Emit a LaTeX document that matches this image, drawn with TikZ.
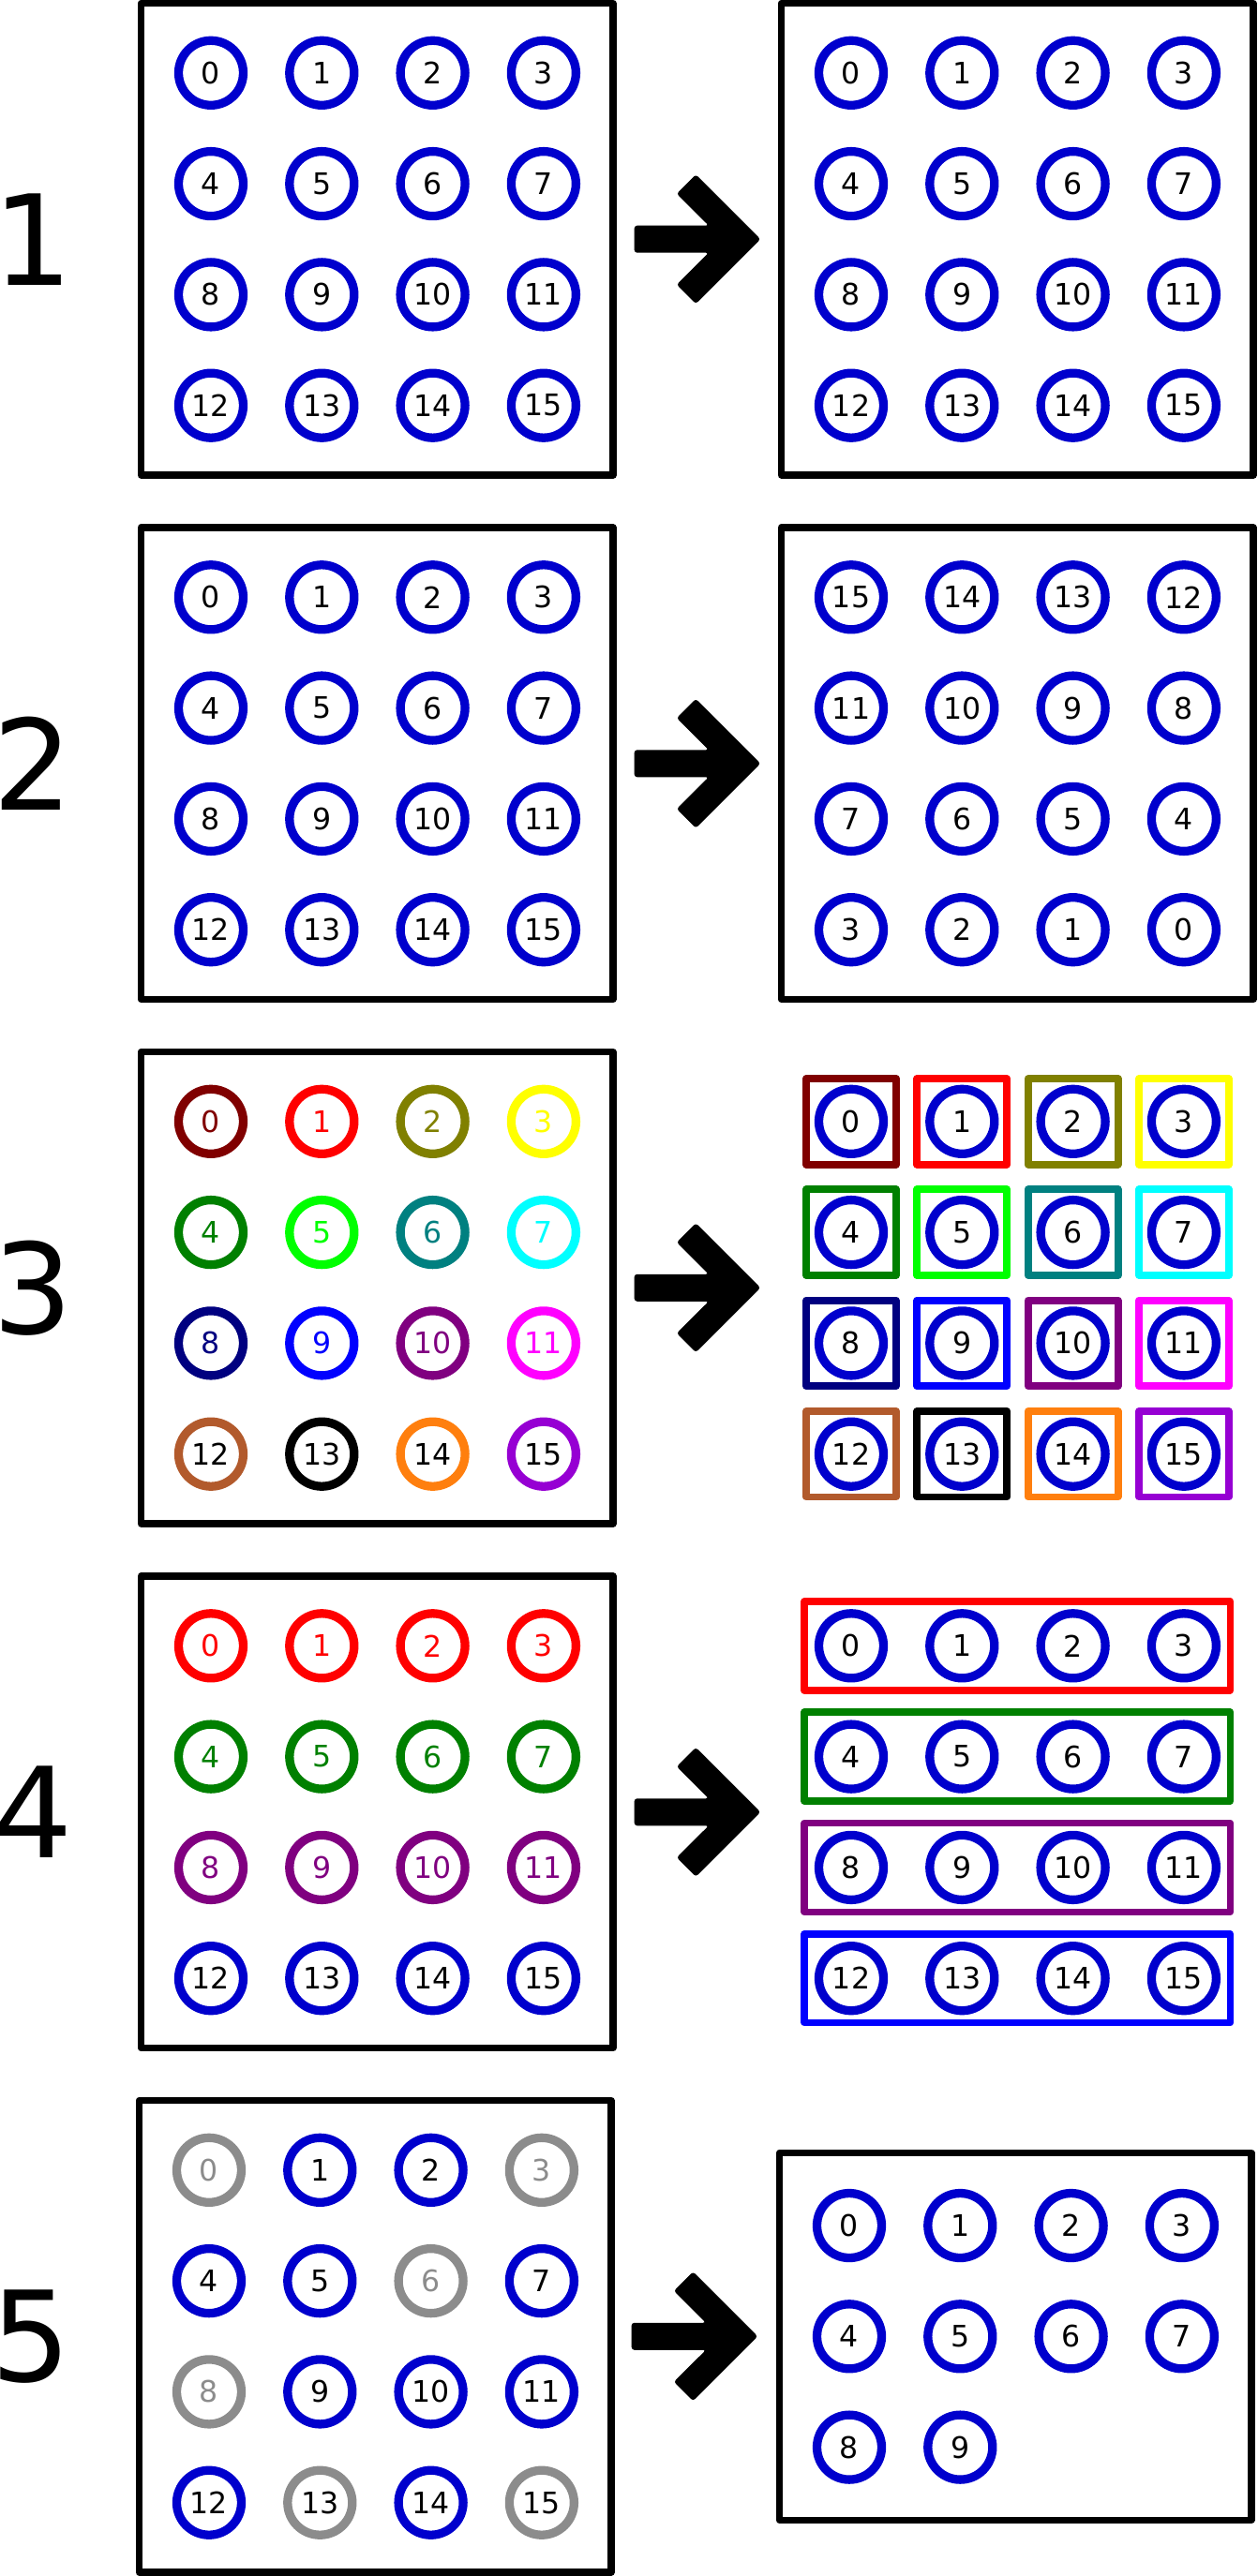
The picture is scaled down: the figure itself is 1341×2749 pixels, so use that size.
\documentclass[tikz,border=0pt]{standalone}
\usepackage{fontspec}
\setmainfont{DejaVu Sans}
\definecolor{cb}{RGB}{0,0,205}
\definecolor{cgray}{RGB}{140,140,140}
\definecolor{c0}{RGB}{128,0,0}
\definecolor{c1}{RGB}{255,0,0}
\definecolor{c2}{RGB}{128,128,0}
\definecolor{c3}{RGB}{255,255,0}
\definecolor{c4}{RGB}{0,128,0}
\definecolor{c5}{RGB}{0,255,0}
\definecolor{c6}{RGB}{0,128,128}
\definecolor{c7}{RGB}{0,255,255}
\definecolor{c8}{RGB}{0,0,128}
\definecolor{c9}{RGB}{0,0,255}
\definecolor{c10}{RGB}{128,0,128}
\definecolor{c11}{RGB}{255,0,255}
\definecolor{c12}{RGB}{178,90,44}
\definecolor{c13}{RGB}{0,0,0}
\definecolor{c14}{RGB}{255,127,14}
\definecolor{c15}{RGB}{150,0,211}
\tikzset{
  ball/.style 2 args={circle,draw=#1,text=#2,line width=4.65pt,minimum size=34.5pt,inner sep=0pt,
    font=\fontsize{15.8pt}{16pt}\selectfont},
  frame/.style={rectangle,draw=black,line width=3.65pt,line join=round,inner sep=0pt,
    minimum width=251.75pt,minimum height=251.75pt},
  sqbox/.style={rectangle,draw=#1,line width=3.9pt,line join=round,inner sep=0pt,
    minimum width=48pt,minimum height=45.8pt},
  rowbox/.style={rectangle,draw=#1,line width=3.8pt,line join=round,inner sep=0pt,
    minimum width=227.1pt,minimum height=47.4pt},
  lab/.style={inner sep=0pt,font=\fontsize{67pt}{70pt}\selectfont},
  bigarrow/.pic={\fill[black,rounded corners=1.5pt] (0,-14.5) -- (79.3,-14.5) -- (45.1,-48.5) -- (65.6,-69)
     -- (134.6,0) -- (65.6,69) -- (45.1,48.5) -- (79.3,14.5) -- (0,14.5) -- cycle;}
}
\begin{document}
\begin{tikzpicture}[x=0.5pt,y=-0.5pt]
\useasboundingbox (0,0) rectangle (1341,2749);

% ---------- Panel 1 ----------
\node[lab] (lab1) at (35,255.25) {1};
\node[frame] (b1l) at (402.25,255.25) {};
\node[frame] (b1r) at (1085.25,255.25) {};
\pic at (676.7,255.25) {bigarrow};
\foreach \n in {0,...,15}{
  \pgfmathsetmacro\px{118.3*mod(\n,4)}
  \pgfmathsetmacro\py{255.25+118.3*(int(\n/4)-1.5)}
  \node[ball={cb}{black}] (a1l-\n) at (225+\px,\py) {\n};
  \node[ball={cb}{black}] (a1r-\n) at (908+\px,\py) {\n};
}

% ---------- Panel 2 ----------
\node[lab] (lab2) at (35,814.75) {2};
\node[frame] (b2l) at (402.25,814.75) {};
\node[frame] (b2r) at (1085.25,814.75) {};
\pic at (676.7,814.75) {bigarrow};
\foreach \n in {0,...,15}{
  \pgfmathsetmacro\px{118.3*mod(\n,4)}
  \pgfmathsetmacro\py{814.75+118.3*(int(\n/4)-1.5)}
  \pgfmathtruncatemacro\m{15-\n}
  \node[ball={cb}{black}] (a2l-\n) at (225+\px,\py) {\n};
  \node[ball={cb}{black}] (a2r-\n) at (908+\px,\py) {\m};
}

% ---------- Panel 3 ----------
\node[lab] (lab3) at (35,1374.25) {3};
\node[frame] (b3l) at (402.25,1374.25) {};
\pic at (676.7,1374.25) {bigarrow};
\foreach \n/\t in {0/c0,1/c1,2/c2,3/c3,4/c4,5/c5,6/c6,7/c7,8/c8,9/c9,10/c10,11/c11,12/black,13/black,14/black,15/black}{
  \pgfmathsetmacro\px{118.3*mod(\n,4)}
  \pgfmathsetmacro\py{1374.25+118.3*(int(\n/4)-1.5)}
  \node[ball={c\n}{\t}] (a3l-\n) at (225+\px,\py) {\n};
  \node[sqbox=c\n] (q3-\n) at (908+\px,\py) {};
  \node[ball={cb}{black}] (a3r-\n) at (908+\px,\py) {\n};
}

% ---------- Panel 4 ----------
\node[lab] (lab4) at (35,1933.75) {4};
\node[frame] (b4l) at (402.25,1933.75) {};
\pic at (676.7,1933.75) {bigarrow};
\foreach \j/\cc/\tc/\rc in {0/c1/c1/c1,1/c4/c4/c4,2/c10/c10/c10,3/cb/black/c9}{
  \pgfmathsetmacro\py{1933.75+118.3*(\j-1.5)}
  \node[rowbox=\rc] (r4-\j) at (1085.3,\py) {};
  \foreach \i in {0,...,3}{
    \pgfmathtruncatemacro\n{4*\j+\i}
    \pgfmathsetmacro\px{118.3*\i}
    \node[ball={\cc}{\tc}] (a4l-\n) at (225+\px,\py) {\n};
    \node[ball={cb}{black}] (a4r-\n) at (908+\px,\py) {\n};
  }
}

% ---------- Panel 5 ----------
\node[lab] (lab5) at (33,2493.25) {5};
\node[frame] (b5l) at (400.25,2493.25) {};
\node[frame,minimum height=196pt] (b5r) at (1083.25,2493.3) {};
\pic at (673.7,2493.25) {bigarrow};
\foreach \n/\cc/\tc in {0/cgray/cgray,1/cb/black,2/cb/black,3/cgray/cgray,4/cb/black,5/cb/black,6/cgray/cgray,7/cb/black,
  8/cgray/cgray,9/cb/black,10/cb/black,11/cb/black,12/cb/black,13/cgray/black,14/cb/black,15/cgray/black}{
  \pgfmathsetmacro\px{118.3*mod(\n,4)}
  \pgfmathsetmacro\py{2493.25+118.3*(int(\n/4)-1.5)}
  \node[ball={\cc}{\tc}] (a5l-\n) at (223+\px,\py) {\n};
}
\foreach \n in {0,...,9}{
  \pgfmathsetmacro\px{118.3*mod(\n,4)}
  \pgfmathsetmacro\py{2493.3+118.3*(int(\n/4)-1)}
  \node[ball={cb}{black}] (a5r-\n) at (906+\px,\py) {\n};
}
\end{tikzpicture}
\end{document}
